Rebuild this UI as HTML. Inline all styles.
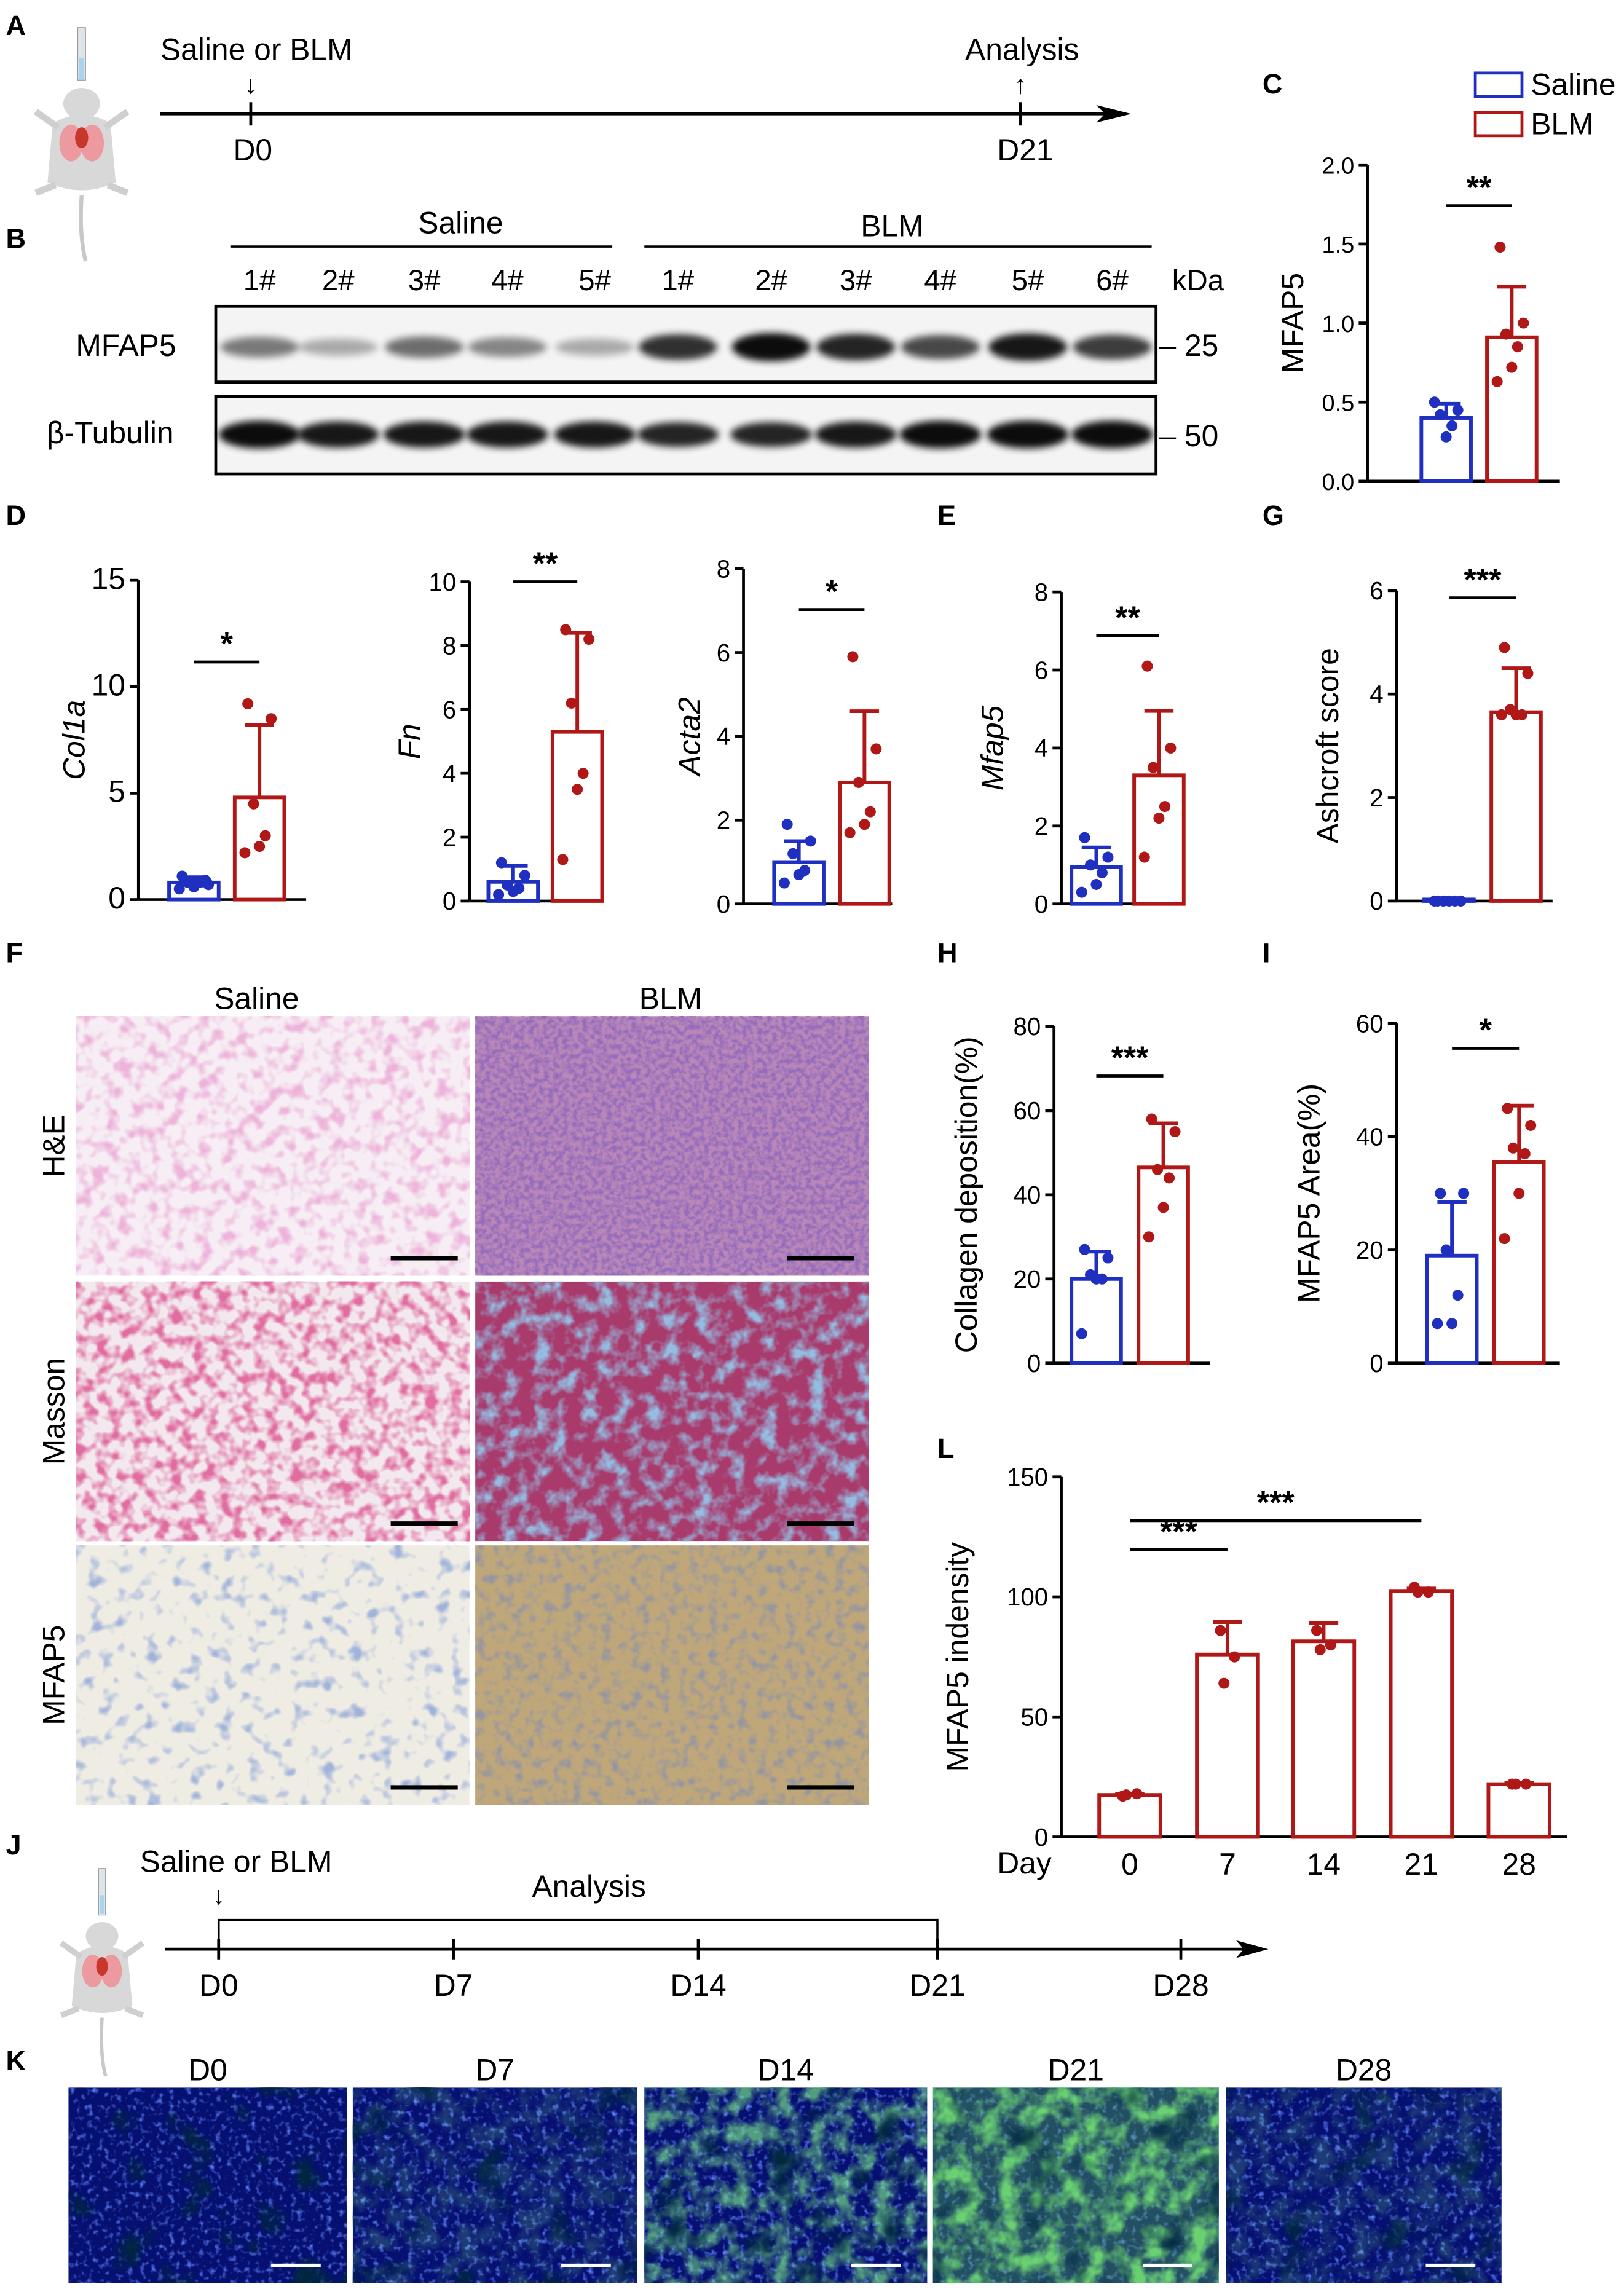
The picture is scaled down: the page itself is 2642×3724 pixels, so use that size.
<!DOCTYPE html>
<html><head><meta charset="utf-8"><style>
html,body{margin:0;padding:0;background:#fff}
svg{display:block}
text{font-family:"Liberation Sans",Arial,sans-serif}
</style></head><body>
<svg id="fig" width="2642" height="3724" viewBox="0 0 1114 1570" xmlns="http://www.w3.org/2000/svg">
<defs>
<filter id="blur2" x="-20%" y="-50%" width="140%" height="200%"><feGaussianBlur stdDeviation="2.5"/></filter>
<filter id="tHEs" x="0" y="0" width="1" height="1"><feTurbulence type="fractalNoise" baseFrequency="0.11" numOctaves="2" seed="2"/><feColorMatrix type="matrix" values="0 0 0 0 0.85 0 0 0 0 0.45 0 0 0 0 0.7 3.5 0 0 0 -1.6"/></filter>
<filter id="tHEb" x="0" y="0" width="1" height="1"><feTurbulence type="fractalNoise" baseFrequency="0.3" numOctaves="2" seed="5"/><feColorMatrix type="matrix" values="0 0 0 0 0.3 0 0 0 0 0.15 0 0 0 0 0.5 3 0 0 0 -1.1"/></filter>
<filter id="tMs" x="0" y="0" width="1" height="1"><feTurbulence type="fractalNoise" baseFrequency="0.12" numOctaves="2" seed="7"/><feColorMatrix type="matrix" values="0 0 0 0 0.75 0 0 0 0 0.15 0 0 0 0 0.35 3.5 0 0 0 -1.5"/></filter>
<filter id="tMb" x="0" y="0" width="1" height="1"><feTurbulence type="fractalNoise" baseFrequency="0.09" numOctaves="3" seed="9"/><feColorMatrix type="matrix" values="0 0 0 0 0.3 0 0 0 0 0.5 0 0 0 0 0.75 3 0 0 0 -1.3"/></filter>
<filter id="tFs" x="0" y="0" width="1" height="1"><feTurbulence type="fractalNoise" baseFrequency="0.1" numOctaves="2" seed="11"/><feColorMatrix type="matrix" values="0 0 0 0 0.35 0 0 0 0 0.45 0 0 0 0 0.7 4 0 0 0 -2.2"/></filter>
<filter id="tFb" x="0" y="0" width="1" height="1"><feTurbulence type="fractalNoise" baseFrequency="0.15" numOctaves="2" seed="13"/><feColorMatrix type="matrix" values="0 0 0 0 0.3 0 0 0 0 0.3 0 0 0 0 0.35 3 0 0 0 -1.4"/></filter>
<filter id="tGreen" x="0" y="0" width="1" height="1"><feTurbulence type="fractalNoise" baseFrequency="0.07" numOctaves="3" seed="4"/><feColorMatrix type="matrix" values="0 0 0 0 0.2 0 0 0 0 0.8 0 0 0 0 0.25 3 0 0 0 -1.2"/></filter>
<filter id="tDark" x="0" y="0" width="1" height="1"><feTurbulence type="fractalNoise" baseFrequency="0.04" numOctaves="2" seed="21"/><feColorMatrix type="matrix" values="0 0 0 0 0 0 0 0 0 0.02 0 0 0 0 0.05 4 0 0 0 -2.3"/></filter>
<filter id="tBlue" x="0" y="0" width="1" height="1"><feTurbulence type="fractalNoise" baseFrequency="0.25" numOctaves="2" seed="17"/><feColorMatrix type="matrix" values="0 0 0 0 0.1 0 0 0 0 0.2 0 0 0 0 0.9 3 0 0 0 -1.6"/></filter>
<g id="mouse">
<rect x="-3" y="-68" width="6" height="40" fill="#dde4ea" stroke="#999" stroke-width="0.6"/>
<rect x="-2" y="-45" width="4" height="16" fill="#a8d4ee"/>
<ellipse cx="0" cy="-10" rx="14" ry="12" fill="#d8d8d8"/>
<path d="M-22 5 Q0 -8 22 5 L26 50 Q0 62 -26 50Z" fill="#d8d8d8"/>
<path d="M-18 8 L-35 -4 M18 8 L35 -4 M-20 52 L-35 58 M20 52 L35 58" stroke="#cfcfcf" stroke-width="5"/>
<ellipse cx="-8" cy="20" rx="9" ry="14" fill="#ec9aa0"/><ellipse cx="8" cy="20" rx="9" ry="14" fill="#ec9aa0"/>
<ellipse cx="0" cy="16" rx="5" ry="8" fill="#c8372c"/>
<path d="M0 60 Q-2 90 3 110" stroke="#c8c8c8" stroke-width="3" fill="none"/>
</g>
</defs>
<g id="root" font-size="20" fill="#000"></g>
</svg>
<script>
// ===== Chart data =====
const cMeans=[0.40,0.91], cSD=[0.09,0.32], cSaline=[0.50,0.45,0.42,0.35,0.28], cBLM=[1.48,1.0,0.93,0.85,0.72,0.63];
const col1aMeans=[0.8,4.8], col1aSD=[0.25,3.4], col1aSaline=[1.1,0.9,0.8,0.8,0.6,0.5,0.7], col1aBLM=[9.2,8.5,4.5,3.0,2.5,2.2];
const fnMeans=[0.6,5.3], fnSD=[0.5,3.1], fnSaline=[1.2,0.8,0.5,0.4,0.3,0.2], fnBLM=[8.5,8.2,6.2,4.0,3.5,1.3];
const acta2Means=[1.0,2.9], acta2SD=[0.5,1.7], acta2Saline=[1.9,1.5,1.2,0.8,0.7,0.5], acta2BLM=[5.9,3.7,2.9,2.2,1.9,1.7];
const mfap5Means=[0.95,3.3], mfap5SD=[0.5,1.65], mfap5Saline=[1.7,1.2,1.0,0.8,0.5,0.3], mfap5BLM=[6.1,4.0,3.5,2.5,2.2,1.2];
const ashMeans=[0.03,3.65], ashSD=[0,0.85], ashSaline=[0,0,0,0,0,0], ashBLM=[4.9,4.4,3.7,3.6,3.6,3.6];
const colDepMeans=[20,46.5], colDepSD=[6.5,10.5], colDepSaline=[27,25,21,20,20,7], colDepBLM=[58,55,46,44,37,30];
const areaMeans=[19,35.5], areaSD=[9.5,10], areaSaline=[30,30,20,12,7,7], areaBLM=[45,42,38,37,30,22];
const lDays=["0","7","14","21","28"], lMeans=[17.5,76,81.5,102.5,22], lSD=[0.5,13.5,7.5,1,0.5];
const lPoints=[[17,18,17.5],[86,75,64],[86,80,78],[104,102,102],[22,22,22]];
const cTicks=["0.0","0.5","1.0","1.5","2.0"], col1aTicks=["0","5","10","15"], fnTicks=["0","2","4","6","8","10"];
const acta2Ticks=["0","2","4","6","8"], mfap5Ticks=["0","2","4","6","8"], ashTicks=["0","2","4","6"];
const colDepTicks=["0","20","40","60","80"], areaTicks=["0","20","40","60"], lTicks=["0","50","100","150"];
const blotMFAP5=[0.5,0.3,0.55,0.45,0.3,0.8,0.95,0.85,0.7,0.9,0.75];
const blotTub=[0.95,0.9,0.9,0.9,0.9,0.85,0.85,0.9,0.95,0.95,0.95];

const NS="http://www.w3.org/2000/svg";
const root=document.getElementById('root');
const BLUE="#1f2fc0", RED="#b01818";
function mk(tag,attrs,parent){const e=document.createElementNS(NS,tag);for(const k in attrs)e.setAttribute(k,attrs[k]);(parent||root).appendChild(e);return e;}
function txt(x,y,s,attrs,parent){const e=mk('text',Object.assign({x:x,y:y},attrs||{}),parent);e.textContent=s;return e;}

[["A",4,24],["B",4,170],["C",866,64],["D",4,360],["E",643,360],["G",866,360],["F",4,660],["H",643,660],["I",866,660],["L",643,1000],["J",4,1272],["K",4,1420]].forEach(p=>{
 const t=txt(p[1],p[2],p[0],{"font-size":19,"font-weight":"bold"});
 
 
});

const u1=mk('use',{href:"#mouse",transform:"translate(56,80) scale(0.9)"});


const tlA=mk('g',{});


mk('line',{x1:110,y1:78,x2:770,y2:78,stroke:"#000","stroke-width":2},tlA);
mk('path',{d:"M776 78 L752 72 L758 78 L752 84Z",fill:"#000"},tlA);
mk('line',{x1:172,y1:70,x2:172,y2:86,stroke:"#000","stroke-width":2},tlA);
mk('line',{x1:700,y1:70,x2:700,y2:86,stroke:"#000","stroke-width":2},tlA);
txt(110,41,"Saline or BLM",{"font-size":21},tlA);
txt(172,64,"↓",{"font-size":18,"text-anchor":"middle"},tlA);
txt(160,110,"D0",{"font-size":21},tlA);
txt(662,41,"Analysis",{"font-size":21},tlA);
txt(700,64,"↑",{"font-size":18,"text-anchor":"middle"},tlA);
txt(684,110,"D21",{"font-size":21},tlA);

const wb=mk('g',{});


mk('line',{x1:158,y1:169,x2:420,y2:169,stroke:"#000","stroke-width":1.5},wb);
mk('line',{x1:442,y1:169,x2:790,y2:169,stroke:"#000","stroke-width":1.5},wb);
txt(316,160,"Saline",{"font-size":21,"text-anchor":"middle"},wb);
txt(612,162,"BLM",{"font-size":21,"text-anchor":"middle"},wb);
const laneLabels=["1#","2#","3#","4#","5#","1#","2#","3#","4#","5#","6#"];
const laneX=[178,232,291,348,408,465,529,587,645,705,763];
laneLabels.forEach((l,i)=>{txt(laneX[i],199,l,{"font-size":20,"text-anchor":"middle"},wb);});
txt(804,199,"kDa",{"font-size":20},wb);
mk('rect',{x:148,y:210,width:645,height:52,fill:"#f4f4f4",stroke:"#000","stroke-width":2},wb);
mk('rect',{x:148,y:272,width:645,height:53,fill:"#f4f4f4",stroke:"#000","stroke-width":2},wb);
blotMFAP5.forEach((v,i)=>{
 const b=mk('ellipse',{cx:laneX[i],cy:238,rx:27,ry:4+6*v,fill:"#000",opacity:v,filter:"url(#blur2)"},wb);
 
 
});
blotTub.forEach((v,i)=>{
 const b=mk('ellipse',{cx:laneX[i],cy:298,rx:28,ry:10*v,fill:"#000",opacity:v,filter:"url(#blur2)"},wb);
 
 
});
txt(52,244,"MFAP5",{"font-size":21},wb);
txt(32,304,"β-Tubulin",{"font-size":21},wb);
txt(795,244,"– 25",{"font-size":21},wb);
txt(795,306,"– 50",{"font-size":21},wb);

const lg=mk('g',{});


mk('rect',{x:1012,y:50,width:32,height:16,fill:"none",stroke:BLUE,"stroke-width":2},lg);
txt(1050,65,"Saline",{"font-size":21},lg);
mk('rect',{x:1012,y:77,width:32,height:16,fill:"none",stroke:RED,"stroke-width":2},lg);
txt(1050,92,"BLM",{"font-size":21},lg);

const jit=[-8,8,-4,4,0,-10,10];
function barChart(name,o){
 const g=mk('g',{});
 
 
 const y=v=>o.y0-(v/o.max)*(o.y0-o.y1);
 const bw=o.bw||34;
 mk('line',{x1:o.ax,y1:o.y1,x2:o.ax,y2:o.y0,stroke:"#000","stroke-width":2},g);
 mk('line',{x1:o.ax,y1:o.y0,x2:o.xend,y2:o.y0,stroke:"#000","stroke-width":2},g);
 o.ticks.forEach((t,i)=>{
  const v=parseFloat(t), yy=y(v);
  mk('line',{x1:o.ax-6,y1:yy,x2:o.ax,y2:yy,stroke:"#000","stroke-width":2},g);
  txt(o.ax-9,yy+6,t,{"font-size":o.tfs||17,"text-anchor":"end"},g);
 });
 o.means.forEach((m,i)=>{
  const col=o.colors?o.colors[i]:(i===0?BLUE:RED);
  const cx=o.cx[i];
  const r=mk('rect',{x:cx-bw/2,y:y(m),width:bw,height:o.y0-y(m),fill:"#fff",stroke:col,"stroke-width":2.5},g);
  
  
  const top=y(m+o.sd[i]);
  mk('line',{x1:cx,y1:y(m),x2:cx,y2:top,stroke:col,"stroke-width":2.5},g);
  mk('line',{x1:cx-10,y1:top,x2:cx+10,y2:top,stroke:col,"stroke-width":2.5},g);
  o.pts[i].forEach((p,j)=>{
   const d=mk('circle',{cx:cx+jit[j%jit.length]*(o.jscale||1),cy:y(p),r:3.8,fill:col},g);
   
   
  });
  if(o.xl) txt(cx,o.y0+26,o.xl[i],{"font-size":21,"text-anchor":"middle"},g);
 });
 (o.sig||[]).forEach(s=>{
  mk('line',{x1:o.cx[s[0]]-(s[3]||0),y1:s[2],x2:o.cx[s[1]]+(s[3]||0),y2:s[2],stroke:"#000","stroke-width":2},g);
  txt((o.cx[s[0]]+o.cx[s[1]])/2,s[2]-5,s[4],{"font-size":22,"font-weight":"bold","text-anchor":"middle"},g);
 });
 txt(0,0,o.label,{"font-size":21,"text-anchor":"middle","font-style":o.italic?"italic":"normal",transform:`translate(${o.lx},${(o.y0+o.y1)/2}) rotate(-90)`},g);
 return g;
}
barChart('chart-c-mfap5',{ax:938,y0:330,y1:113,max:2,xend:1070,cx:[992,1037],means:cMeans,sd:cSD,pts:[cSaline,cBLM],ticks:cTicks,tfs:16,label:"MFAP5",lx:894,sig:[[0,1,141,0,"**"]]});
barChart('chart-d-col1a',{ax:95,y0:617,y1:398,max:15,xend:210,cx:[133,178],means:col1aMeans,sd:col1aSD,pts:[col1aSaline,col1aBLM],ticks:col1aTicks,label:"Col1a",italic:true,lx:58,tfs:21,sig:[[0,1,454,0,"*"]]});
barChart('chart-d-fn',{ax:322,y0:618,y1:399,max:10,xend:400,cx:[352,396],means:fnMeans,sd:fnSD,pts:[fnSaline,fnBLM],ticks:fnTicks,label:"Fn",italic:true,lx:288,sig:[[0,1,399,0,"**"]]});
barChart('chart-d-acta2',{ax:510,y0:620,y1:390,max:8,xend:612,cx:[548,593],means:acta2Means,sd:acta2SD,pts:[acta2Saline,acta2BLM],ticks:acta2Ticks,label:"Acta2",italic:true,lx:480,sig:[[0,1,418,0,"*"]]});
barChart('chart-e-mfap5',{ax:728,y0:620,y1:406,max:8,xend:805,cx:[752,795],means:mfap5Means,sd:mfap5SD,pts:[mfap5Saline,mfap5BLM],ticks:mfap5Ticks,label:"Mfap5",italic:true,lx:688,sig:[[0,1,436,0,"**"]]});
barChart('chart-g-ashcroft',{ax:958,y0:618,y1:405,max:6,xend:1065,cx:[994,1040],means:ashMeans,sd:ashSD,pts:[ashSaline,ashBLM],ticks:ashTicks,label:"Ashcroft score",lx:918,sig:[[0,1,410,0,"***"]]});
barChart('chart-h-collagen',{ax:723,y0:935,y1:704,max:80,xend:830,cx:[752,798],means:colDepMeans,sd:colDepSD,pts:[colDepSaline,colDepBLM],ticks:colDepTicks,label:"Collagen deposition(%)",lx:670,sig:[[0,1,738,0,"***"]]});
barChart('chart-i-mfap5-area',{ax:958,y0:935,y1:702,max:60,xend:1070,cx:[996,1042],means:areaMeans,sd:areaSD,pts:[areaSaline,areaBLM],ticks:areaTicks,label:"MFAP5 Area(%)",lx:905,sig:[[0,1,719,0,"*"]]});
barChart('chart-l-time',{ax:728,y0:1260,y1:1013,max:150,xend:1075,cx:[775,842,908,975,1042],bw:42,jscale:0.6,means:lMeans,sd:lSD,pts:lPoints,ticks:lTicks,colors:[RED,RED,RED,RED,RED],label:"MFAP5 indensity",lx:664,xl:lDays,sig:[[0,1,1063,0,"***"],[0,3,1043,0,"***"]]});
txt(684,1285,"Day",{"font-size":21});

const fg=mk('g',{});


txt(176,692,"Saline",{"font-size":21,"text-anchor":"middle"},fg);
txt(460,692,"BLM",{"font-size":21,"text-anchor":"middle"},fg);
const rows=[["H&E",697,"#f6eef4","tHEs","#b987b8","tHEb"],["Masson",879,"#f2e8ee","tMs","#a83a6c","tMb"],["MFAP5",1060,"#efece4","tFs","#bfa77a","tFb"]];
rows.forEach(r=>{
 txt(0,0,r[0],{"font-size":21,"text-anchor":"middle",transform:`translate(44,${r[1]+89}) rotate(-90)`},fg);
 const a=mk('rect',{x:52,y:r[1],width:270,height:178,fill:r[2]},fg);
 
 
 mk('rect',{x:52,y:r[1],width:270,height:178,filter:`url(#${r[3]})`},fg);
 const b=mk('rect',{x:326,y:r[1],width:270,height:178,fill:r[4]},fg);
 
 
 mk('rect',{x:326,y:r[1],width:270,height:178,filter:`url(#${r[5]})`},fg);
 mk('line',{x1:268,y1:r[1]+166,x2:314,y2:r[1]+166,stroke:"#000","stroke-width":3},fg);
 mk('line',{x1:540,y1:r[1]+166,x2:586,y2:r[1]+166,stroke:"#000","stroke-width":3},fg);
});

const u2=mk('use',{href:"#mouse",transform:"translate(70,1336) scale(0.8)"});


const tlJ=mk('g',{});


mk('line',{x1:113,y1:1337,x2:862,y2:1337,stroke:"#000","stroke-width":2},tlJ);
mk('path',{d:"M870 1337 L848 1331 L853 1337 L848 1343Z",fill:"#000"},tlJ);
[[150,"D0"],[311,"D7"],[479,"D14"],[643,"D21"],[810,"D28"]].forEach(d=>{
 mk('line',{x1:d[0],y1:1330,x2:d[0],y2:1344,stroke:"#000","stroke-width":2},tlJ);
 txt(d[0],1369,d[1],{"font-size":21,"text-anchor":"middle"},tlJ);
});
mk('path',{d:"M150 1337 L150 1317 L643 1317 L643 1337",fill:"none",stroke:"#000","stroke-width":1.5},tlJ);
txt(96,1284,"Saline or BLM",{"font-size":21},tlJ);
txt(150,1306,"↓",{"font-size":17,"text-anchor":"middle"},tlJ);
txt(404,1301,"Analysis",{"font-size":21,"text-anchor":"middle"},tlJ);

const kg=mk('g',{});


const kImgs=[["D0",47,191,0],["D7",242,195,0.2],["D14",442,194,0.65],["D21",640,196,1],["D28",841,189,0.2]];
kImgs.forEach(k=>{
 txt(k[1]+k[2]/2,1427,k[0],{"font-size":21,"text-anchor":"middle"},kg);
 const r=mk('rect',{x:k[1],y:1432,width:k[2],height:134,fill:"#061070"},kg);
 
 
 mk('rect',{x:k[1],y:1432,width:k[2],height:134,filter:"url(#tBlue)"},kg);
 if(k[3]>0) mk('rect',{x:k[1],y:1432,width:k[2],height:134,filter:"url(#tGreen)",opacity:k[3]},kg);
 if(k[3]>=1) mk('rect',{x:k[1],y:1432,width:k[2],height:134,fill:"#50b050",opacity:0.4},kg);
 mk('rect',{x:k[1],y:1432,width:k[2],height:134,filter:"url(#tDark)",opacity:0.95},kg);
 mk('line',{x1:k[1]+k[2]-52,y1:1554,x2:k[1]+k[2]-18,y2:1554,stroke:"#fff","stroke-width":2.5},kg);
});
</script>
</body></html>
